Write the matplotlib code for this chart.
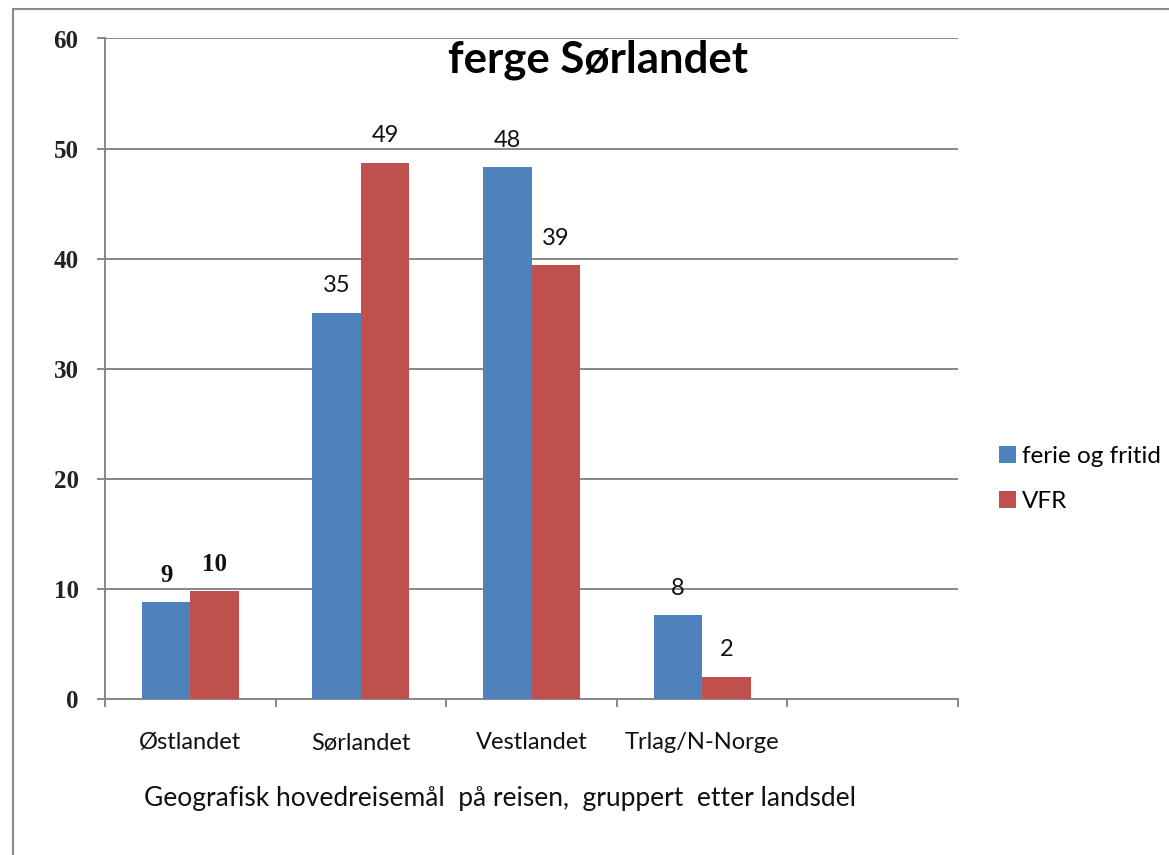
import matplotlib
matplotlib.use("Agg")
import matplotlib.pyplot as plt
from matplotlib.patches import Rectangle
import numpy as np

categories = ["Østlandet", "Sørlandet", "Vestlandet", "Trlag/N-Norge", ""]
ferie = [8.8, 35.1, 48.3, 7.6, None]
vfr = [9.8, 48.7, 39.4, 2.0, None]
ferie_labels = ["9", "35", "48", "8", None]
vfr_labels = ["10", "49", "39", "2", None]
yticks = [0, 10, 20, 30, 40, 50, 60]

W, H = 1169, 855
fig = plt.figure(figsize=(W / 100, H / 100), dpi=100)
fig.patch.set_facecolor("white")
# chart-area border (only top and left visible in the crop)
fig.add_artist(Rectangle((13 / W, -0.05), 1.2, 1 - 9 / H + 0.05, transform=fig.transFigure,
                         fill=False, edgecolor="#8a8a8a", linewidth=1.5))

ax = fig.add_axes([105 / W, 1 - 699 / H, (958 - 105) / W, (699 - 38.5) / H])
blue = "#4F81BD"
red = "#C0504D"
grid_c = "#888888"
sans = ["Lato", "DejaVu Sans"]
serif = ["Liberation Serif", "DejaVu Serif"]

n = len(categories)
x = np.arange(n)
bw = 0.284
fv = [v if v is not None else 0 for v in ferie]
rv = [v if v is not None else 0 for v in vfr]
b1 = ax.bar(x - bw / 2, fv, bw, color=blue, label="ferie og fritid", zorder=3)
b2 = ax.bar(x + bw / 2, rv, bw, color=red, label="VFR", zorder=3)

ax.set_xlim(-0.5, n - 0.5)
ax.set_ylim(0, 60)
ax.set_yticks(yticks)
ax.set_yticklabels([str(t) for t in yticks], fontfamily=serif, fontsize=18, fontweight="bold",
                   color="#222222")
for t in yticks:
    ax.axhline(t, color=grid_c, linewidth=1.4, zorder=1)
ax.tick_params(axis="y", length=6, color=grid_c, width=1.4, pad=13)

ax.set_xticks(x)
ax.set_xticklabels(categories, fontfamily=sans, fontsize=17, color="#111111")
ax.tick_params(axis="x", length=0, pad=24)
ax.set_xticks(np.arange(-0.5, n, 1), minor=True)
ax.tick_params(axis="x", which="minor", length=6, color=grid_c, width=1.4, direction="out")

for s in ["top", "right"]:
    ax.spines[s].set_visible(False)
for s in ["left", "bottom"]:
    ax.spines[s].set_color(grid_c)
    ax.spines[s].set_linewidth(1.4)

label_off = 19.5
for i in range(n):
    for lab, val, dx in ((ferie_labels[i], fv[i], -bw / 2), (vfr_labels[i], rv[i], bw / 2)):
        if lab is None:
            continue
        serif_lab = i == 0
        ax.annotate(lab, (x[i] + dx, val), xytext=(0, label_off),
                    textcoords="offset points", ha="center", va="center",
                    fontfamily=serif if serif_lab else sans,
                    fontweight="bold" if serif_lab else "normal",
                    fontsize=18 if serif_lab else 17, color="#111111", zorder=5)

fig.text(598 / W, 1 - 60 / H, "ferge Sørlandet", ha="center", va="center",
         fontfamily=sans, fontsize=31.5, fontweight="bold", color="black")
fig.text(500 / W, 1 - 798 / H, "Geografisk hovedreisemål  på reisen,  gruppert  etter landsdel",
         ha="center", va="center", fontfamily=sans, fontsize=19, color="#111111")

leg = fig.legend(handles=[b1, b2], labels=["ferie og fritid", "VFR"],
                 loc="center left", bbox_to_anchor=(999 / W, 1 - 479 / H),
                 frameon=False, prop={"family": sans, "size": 17.5},
                 handlelength=0.7, handleheight=0.7, handletextpad=0.25, labelspacing=0.95,
                 borderpad=0, borderaxespad=0)

fig.savefig("out.png", dpi=100, facecolor="white")
